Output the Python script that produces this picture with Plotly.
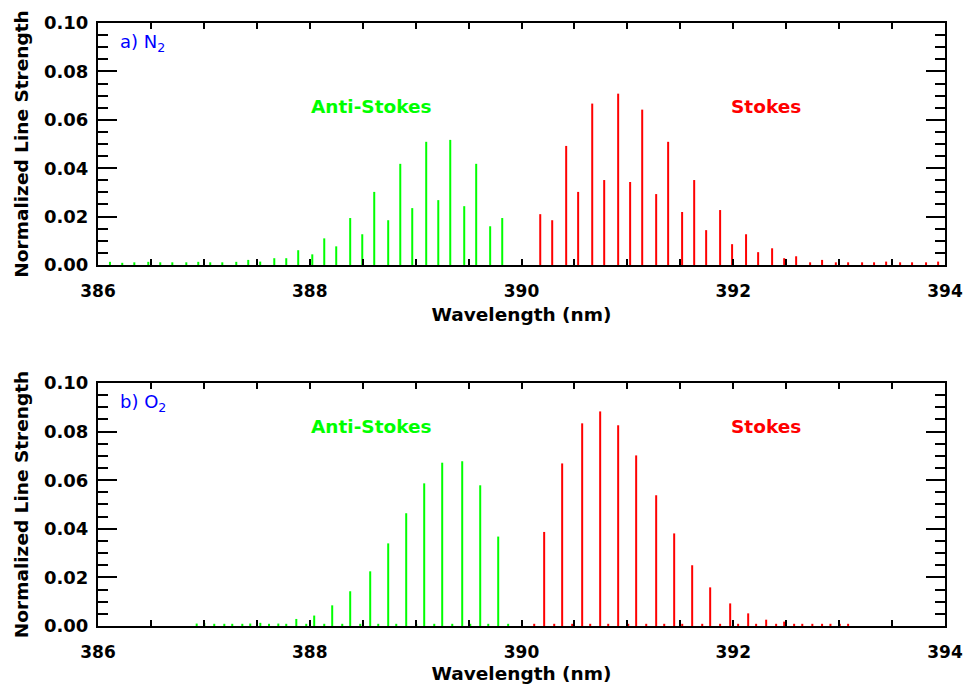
import plotly.graph_objects as go

# ---------------- data ----------------
# a) N2 : anti-Stokes (green) and Stokes (red) lines
n2_as_wl = [386.113, 386.229, 386.343, 386.475, 386.588, 386.702, 386.834, 386.947,
            387.060, 387.174, 387.306, 387.419, 387.532, 387.665, 387.778, 387.891,
            388.024, 388.137, 388.250, 388.382, 388.496, 388.609, 388.741, 388.855,
            388.968, 389.100, 389.214, 389.327, 389.459, 389.572, 389.704, 389.818]
n2_as_s = [0.0013, 0.0009, 0.0011, 0.0013, 0.0011, 0.0011, 0.0011, 0.0013,
           0.0011, 0.0011, 0.0013, 0.0021, 0.0014, 0.0028, 0.0028, 0.0061,
           0.0044, 0.0110, 0.0077, 0.0194, 0.0127, 0.0302, 0.0185, 0.0418,
           0.0235, 0.0509, 0.0268, 0.0517, 0.0243, 0.0418, 0.0160, 0.0194]

n2_s_wl = [390.177, 390.290, 390.422, 390.535, 390.668, 390.781, 390.913, 391.026,
           391.140, 391.272, 391.385, 391.517, 391.631, 391.744, 391.876, 391.989,
           392.121, 392.235, 392.367, 392.481, 392.594, 392.726, 392.839, 392.969,
           393.085, 393.217, 393.330, 393.444, 393.576, 393.689, 393.821, 393.935]
n2_s_s = [0.0210, 0.0185, 0.0492, 0.0302, 0.0667, 0.0351, 0.0708, 0.0343,
          0.0642, 0.0293, 0.0509, 0.0219, 0.0351, 0.0144, 0.0227, 0.0086,
          0.0127, 0.0053, 0.0069, 0.0028, 0.0036, 0.0011, 0.0021, 0.0011,
          0.0011, 0.0011, 0.0011, 0.0014, 0.0011, 0.0011, 0.0011, 0.0014]

# b) O2 : anti-Stokes (green) and Stokes (red) lines
o2_as_wl = [386.932, 387.004, 387.098, 387.193, 387.268, 387.363, 387.438, 387.533,
            387.615, 387.703, 387.778, 387.873, 387.967, 388.042, 388.137, 388.212,
            388.307, 388.382, 388.477, 388.571, 388.647, 388.741, 388.817, 388.911,
            389.006, 389.081, 389.176, 389.251, 389.346, 389.440, 389.516, 389.610,
            389.686, 389.780, 389.874]
o2_as_s = [0.0010, 0.0012, 0.0009, 0.0009, 0.0009, 0.0009, 0.0010, 0.0013,
           0.0009, 0.0010, 0.0009, 0.0029, 0.0009, 0.0043, 0.0009, 0.0085,
           0.0009, 0.0143, 0.0009, 0.0225, 0.0009, 0.0340, 0.0009, 0.0464,
           0.0009, 0.0587, 0.0009, 0.0672, 0.0009, 0.0678, 0.0009, 0.0579,
           0.0009, 0.0368, 0.0009]

o2_s_wl = [390.120, 390.214, 390.309, 390.384, 390.479, 390.573, 390.649, 390.743,
           390.819, 390.913, 391.008, 391.083, 391.178, 391.272, 391.348, 391.442,
           391.518, 391.612, 391.707, 391.782, 391.876, 391.971, 392.046, 392.141,
           392.216, 392.311, 392.405, 392.481, 392.575, 392.652, 392.747, 392.839,
           392.918, 393.006, 393.085]
o2_s_s = [0.0009, 0.0387, 0.0009, 0.0669, 0.0009, 0.0834, 0.0009, 0.0883,
          0.0009, 0.0826, 0.0009, 0.0702, 0.0009, 0.0538, 0.0009, 0.0381,
          0.0009, 0.0250, 0.0009, 0.0159, 0.0009, 0.0093, 0.0009, 0.0052,
          0.0009, 0.0026, 0.0009, 0.0018, 0.0009, 0.0009, 0.0009, 0.0009,
          0.0009, 0.0009, 0.0009]

x_range = [386, 394]
y_range = [0.0, 0.10]
x_ticks = [386, 388, 390, 392, 394]
y_ticks = [0.00, 0.02, 0.04, 0.06, 0.08, 0.10]

GREEN = "#00FF00"
RED = "#FF0000"
BLUE = "#0000FF"
FONT = "DejaVu Sans"


def sticks(wl, s):
    xs, ys = [], []
    for w, v in zip(wl, s):
        xs += [w, w, None]
        ys += [0, v, None]
    return xs, ys


fig = go.Figure()
for wl, s, col, xa, ya in [
    (n2_as_wl, n2_as_s, GREEN, "x", "y"),
    (n2_s_wl, n2_s_s, RED, "x", "y"),
    (o2_as_wl, o2_as_s, GREEN, "x2", "y2"),
    (o2_s_wl, o2_s_s, RED, "x2", "y2"),
]:
    xs, ys = sticks(wl, s)
    fig.add_trace(go.Scatter(x=xs, y=ys, mode="lines", xaxis=xa, yaxis=ya,
                             line=dict(color=col, width=2), hoverinfo="skip",
                             showlegend=False, connectgaps=False))

xtickfont = dict(family=FONT, size=17, color="black", weight="bold")
ytickfont = dict(family=FONT, size=18, color="black", weight="bold")
titlefont = dict(family=FONT, size=18.5, color="black", weight="bold")


def xax(anchor):
    return dict(range=x_range, anchor=anchor, tickmode="array", tickvals=x_ticks,
                ticktext=[str(v) for v in x_ticks], automargin=False,
                ticks="inside", ticklen=6, tickwidth=2, tickcolor="black",
                showline=True, linewidth=2, linecolor="black", mirror="ticks",
                showgrid=False, zeroline=False, tickfont=xtickfont,
                ticklabelstandoff=10,
                minor=dict(tickmode="linear", dtick=0.5, tick0=386, ticks="inside",
                           ticklen=6, tickwidth=2, tickcolor="black", showgrid=False),
                title=dict(text="Wavelength (nm)", font=titlefont, standoff=8))


def yax(domain, anchor):
    return dict(range=y_range, domain=domain, anchor=anchor, tickmode="array",
                tickvals=y_ticks, ticktext=["%.2f" % v for v in y_ticks],
                automargin=False, ticks="inside", ticklen=19,
                tickwidth=2, tickcolor="black", showline=True, linewidth=2,
                linecolor="black", mirror="ticks", showgrid=False, zeroline=False,
                tickfont=ytickfont, ticklabelstandoff=4,
                minor=dict(tickmode="linear", dtick=0.005, tick0=0, ticks="inside",
                           ticklen=10, tickwidth=2, tickcolor="black", showgrid=False),
                title=dict(text="Normalized Line Strength", font=titlefont, standoff=10))


fig.update_layout(
    width=963, height=684,
    margin=dict(l=98, r=18, t=23, b=58),
    paper_bgcolor="white", plot_bgcolor="white",
    xaxis=xax("y"),
    yaxis=yax([0.5987, 1.0], "x"),
    xaxis2=xax("y2"),
    yaxis2=yax([0.0, 0.403], "x2"),
)

ann_font = dict(family=FONT, size=18.5, weight="bold")
lab_font = dict(family=FONT, size=18, color=BLUE)
annotations = [
    dict(text="a) N<sub>2</sub>", x=386.19, y=0.0917, xref="x", yref="y",
         xanchor="left", showarrow=False, font=lab_font),
    dict(text="Anti-Stokes", x=388.583, y=0.0656, xref="x", yref="y",
         showarrow=False, font=dict(ann_font, color=GREEN)),
    dict(text="Stokes", x=392.308, y=0.0656, xref="x", yref="y",
         showarrow=False, font=dict(ann_font, color=RED)),
    dict(text="b) O<sub>2</sub>", x=386.19, y=0.0918, xref="x2", yref="y2",
         xanchor="left", showarrow=False, font=lab_font),
    dict(text="Anti-Stokes", x=388.583, y=0.0819, xref="x2", yref="y2",
         showarrow=False, font=dict(ann_font, color=GREEN)),
    dict(text="Stokes", x=392.308, y=0.0819, xref="x2", yref="y2",
         showarrow=False, font=dict(ann_font, color=RED)),
]
fig.update_layout(annotations=annotations)

fig.write_html("out.html")
